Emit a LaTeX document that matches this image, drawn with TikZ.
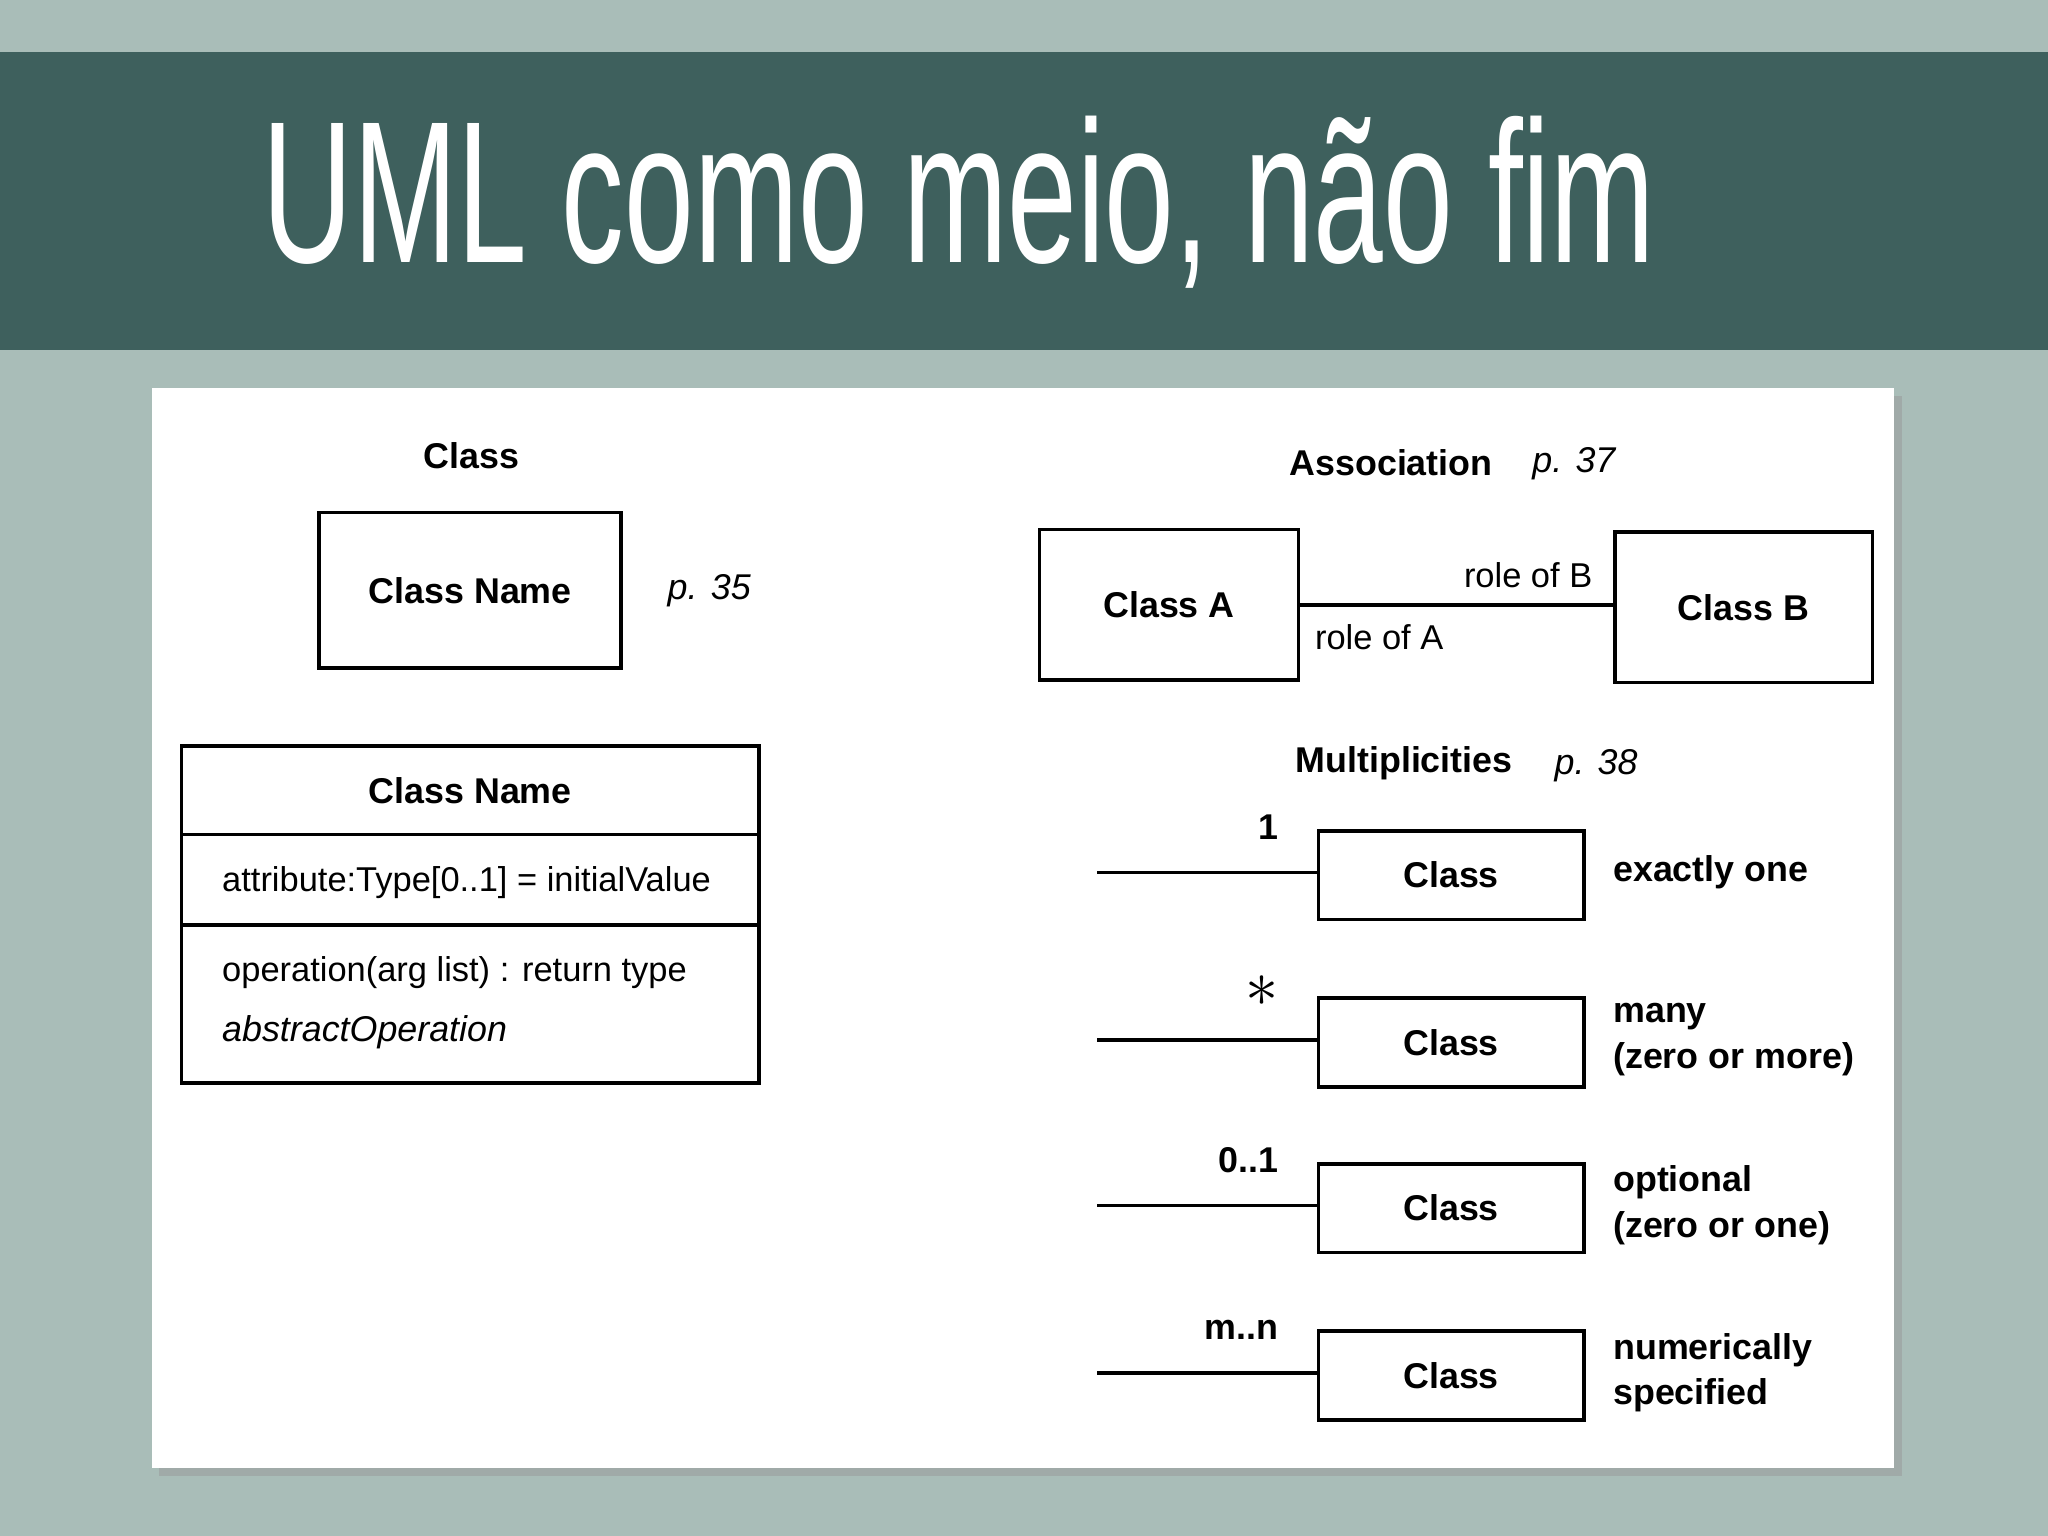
\documentclass[tikz,border=0pt]{standalone}
\usepackage{fontspec}
\setmainfont{Liberation Sans}
\usepackage{tikz}
\definecolor{bgcol}{HTML}{A9BDB8}
\definecolor{bandcol}{HTML}{3E605D}
\begin{document}
\begin{tikzpicture}[x = 0.01cm, y = -0.01cm, line width = 0.8pt,
                    box/.style = {draw, font = \fontsize{7.8}{10}\selectfont\bfseries},
                    lbl/.style = {font = \fontsize{7.5}{10}\selectfont},
                    bold/.style = {font = \fontsize{7.8}{10}\selectfont\bfseries, align = left},
                    page/.style = {font = \fontsize{7.8}{10}\selectfont\itshape}]
  \fill [bgcol] (0, 0) rectangle (1568, 1176);
  \fill [bandcol] (0, 40) rectangle (1568, 268);
  \node [white, font = \fontsize{44}{44}\selectfont, xscale = 0.62, anchor = west] (title) at (193, 155) {UML como meio, não fim};
  \fill [black!40, opacity = 0.5] (122, 303) rectangle (1456, 1130);
  \fill [white] (116, 297) rectangle (1450, 1124);

  % class
  \node [bold] (cls) at (361, 349) {Class};
  \node [box, minimum width = 2.31cm, minimum height = 1.19cm] (cname) at (360, 452) {Class Name};
  \node [page] (p35) at (543, 452) {p. 35};

  \node [box, minimum width = 4.42cm, minimum height = 0.68cm] (chead) at (360, 605) {Class Name};
  \node [draw, minimum width = 4.42cm, minimum height = 0.69cm] (cattr) at (360, 673.5) {};
  \node [draw, minimum width = 4.42cm, minimum height = 1.21cm] (cops) at (360, 768.5) {};
  \node [lbl, anchor = west] (attr) at (157, 676) {attribute:Type[0..1] = initialValue};
  \node [lbl, anchor = west] (op) at (157, 745) {operation(arg list) : return type};
  \node [page, anchor = west] (absop) at (157, 790) {abstractOperation};

  % association
  \node [bold] (assoc) at (1065, 354) {Association};
  \node [page] (p37) at (1205, 355) {p. 37};
  \node [box, minimum width = 1.98cm, minimum height = 1.15cm] (A) at (895, 463) {Class A};
  \node [box, minimum width = 1.97cm, minimum height = 1.15cm] (B) at (1335, 465) {Class B};
  \draw (A.east) -- (B.west |- A.east);
  \node [lbl] (roleB) at (1170, 440) {role of B};
  \node [lbl] (roleA) at (1056, 488) {role of A};

  % multiplicities
  \node [bold] (mult) at (1075, 584) {Multiplicities};
  \node [page] (p38) at (1222, 586) {p. 38};
  \foreach \y/\m/\t [count = \i] in {670/1/exactly one,
                                     798/{\Large$\ast$}/many\\(zero or more),
                                     925/0..1/optional\\(zero or one),
                                     1053/m..n/numerically\\specified} {
    \node [box, minimum width = 2.03cm, minimum height = 0.68cm] (m\i) at (1111, \y) {Class};
    \coordinate (e\i) at (840, \y - 2);
    \draw (e\i) -- (m\i.west |- e\i);
    \node [bold, anchor = south east] (n\i) at (992, \y - 14) {\m};
    \node [bold, anchor = west] (t\i) at (1222, \y - 2) {\t};
  }
\end{tikzpicture}
\end{document}
